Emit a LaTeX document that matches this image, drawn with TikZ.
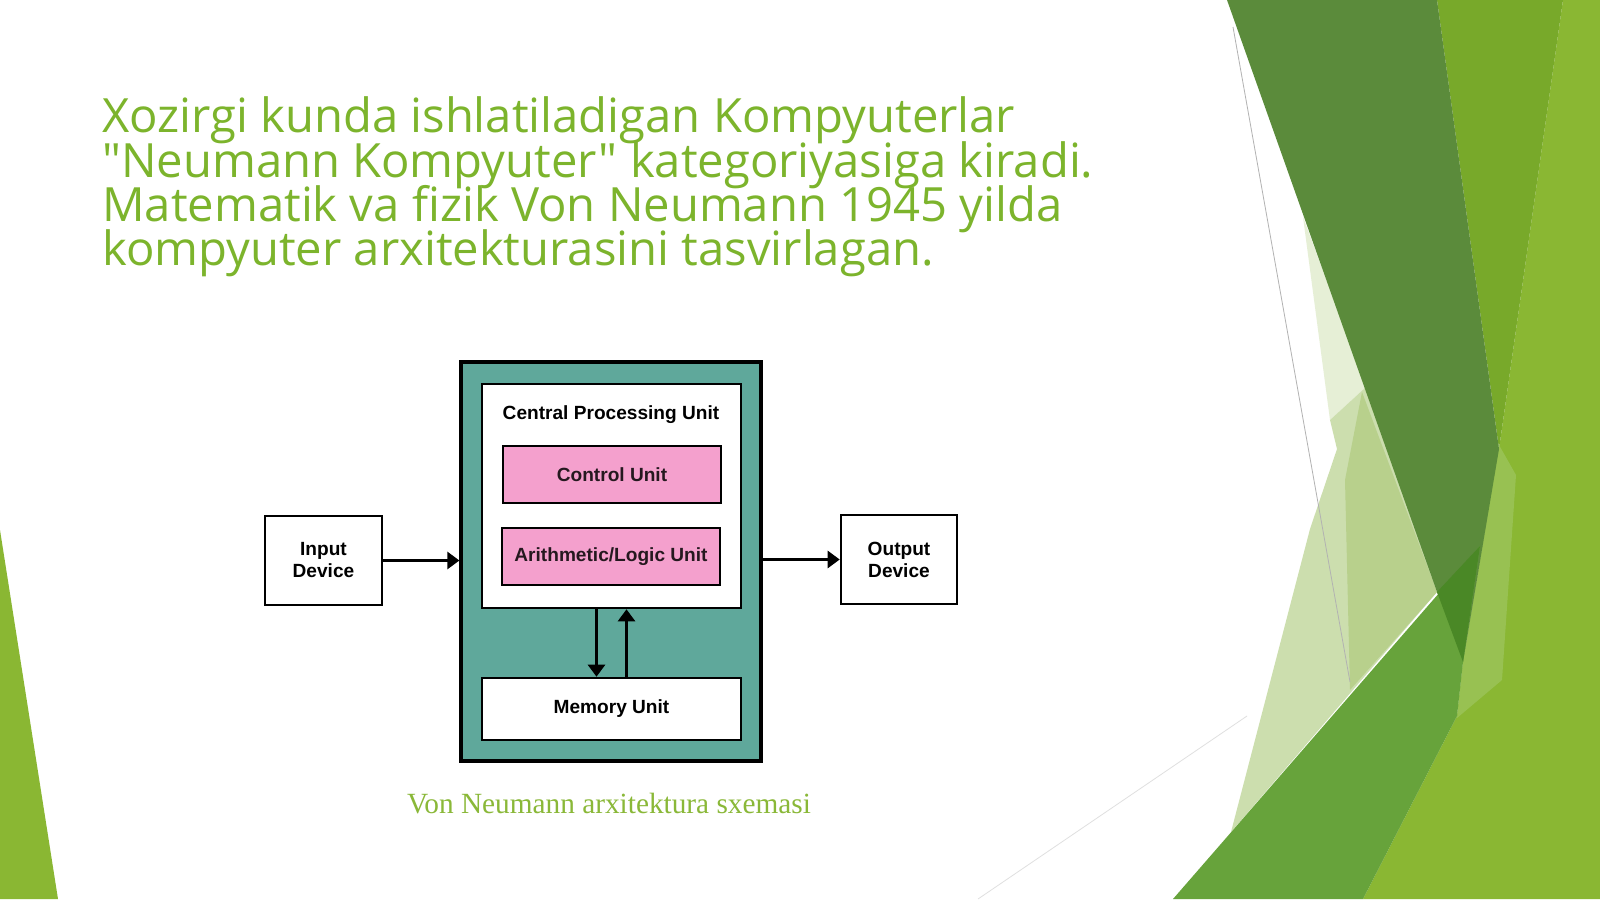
\documentclass[tikz,border=0pt]{standalone}
\usepackage{fontspec}
\setmainfont{Liberation Sans}
\newfontfamily\titlefont{Open Sans}
\newfontfamily\capfont{Liberation Serif}
\usetikzlibrary{arrows.meta, positioning, calc}

\definecolor{facetgreen}{HTML}{7CB42C}
\definecolor{capgreen}{HTML}{8AB838}
\definecolor{darkband}{HTML}{5B8B3B}
\definecolor{midgreen}{HTML}{78A92A}
\definecolor{brightgreen}{HTML}{8AB733}
\definecolor{lightstrip}{HTML}{98C152}
\definecolor{medband}{HTML}{67A33B}
\definecolor{overlap}{HTML}{4A8826}
\definecolor{palegreen}{HTML}{CCDEAE}
\definecolor{palegreenA}{HTML}{E6EFD6}
\definecolor{palegreenB}{HTML}{B8D08C}
\definecolor{cputeal}{HTML}{5FA89B}
\definecolor{unitpink}{HTML}{F4A0CD}

\begin{document}
\begin{tikzpicture}[x=1pt,y=-1pt,
    box/.style={draw=black, line width=2.6pt, fill=white, inner sep=0pt, align=center,
                font=\bfseries\fontsize{19.1}{22}\selectfont},
    unit/.style={box, fill=unitpink, text=black!85!unitpink},
    arr/.style={line width=2.6pt, -{Triangle[length=12pt,width=17pt]}},
    title/.style={text=facetgreen, inner sep=0pt, anchor=base west,
                  font=\titlefont\fontsize{47.2}{44.4}\selectfont}]

    % Nen va chegaralar
    \fill[white] (0,0) rectangle (1600,899);
    \useasboundingbox (0,0) rectangle (1600,899);

    % Chap pastdagi uchburchak
    \fill[brightgreen] (0,530) -- (58,899) -- (0,899) -- cycle;

    % O'ng tomondagi yashil shakllar
    \fill[palegreenA] (1303,217) -- (1366,387) -- (1330,420) -- cycle;
    \fill[palegreen] (1330,420) -- (1366,387) -- (1437,592) -- (1231,832) -- (1310,529) -- (1337,449) -- cycle;
    \fill[palegreenB] (1362,392) -- (1437,592) -- (1350,690) -- (1345,480) -- cycle;
    \fill[brightgreen] (1563,0) -- (1600,0) -- (1600,899) -- (1363,899) -- (1457,716) -- (1463,662) -- (1499,449) -- cycle;
    \fill[midgreen] (1437,0) -- (1563,0) -- (1499,449) -- cycle;
    \fill[lightstrip] (1499,445) -- (1516,475) -- (1502,680) -- (1457,718) -- (1463,662) -- cycle;
    \fill[darkband] (1227,0) -- (1437,0) -- (1499,449) -- (1463,662) -- (1437,592) -- cycle;
    \fill[medband] (1173,899) -- (1480,546) -- (1463,662) -- (1457,716) -- (1363,899) -- cycle;
    \fill[overlap] (1437,592) -- (1480,546) -- (1463,662) -- cycle;
    \draw[black!30, line width=0.8pt] (1233,27) -- (1350,682); % ingichka chiziq
    \draw[black!12, line width=0.8pt] (978,899) -- (1247,716);

    % Sarlavha
    \foreach \txt [count=\i] in {Xozirgi kunda ishlatiladigan Kompyuterlar,
        "Neumann Kompyuter" kategoriyasiga kiradi.,
        Matematik va fizik Von Neumann 1945 yilda,
        kompyuter arxitekturasini tasvirlagan.}
        \node[title] (t\i) at (102,{88.3+44.4*\i}) {\txt};

    % Sxema
    \node[box, fill=cputeal, line width=3.2pt, minimum width=300pt, minimum height=399pt] (teal) at (611,561.5) {};
    \node[box, minimum width=259pt, minimum height=224pt] (cpu) at (611.5,496) {};
    \node[font=\bfseries\fontsize{19.1}{22}\selectfont, inner sep=0pt] (cpulabel) at (611,415) {Central Processing Unit};
    \node[unit, minimum width=218pt, minimum height=57pt] (ctrl) at (612,474.5) {Control Unit};
    \node[unit, minimum width=218pt, minimum height=57pt] (alu) at (611,556.5) {Arithmetic/Logic Unit};
    \node[box, minimum width=259pt, minimum height=62pt] (mem) at (611.5,709) {Memory Unit};
    \node[box, minimum width=117pt, minimum height=89pt] (input) at (323.5,560.5) {Input\\Device};
    \node[box, minimum width=116pt, minimum height=89pt] (output) at (899,559.5) {Output\\Device};

    % Strelkalar
    \draw[arr] (input.east) -- (input.east -| teal.west);
    \draw[arr] (teal.east |- output.west) -- (output.west);
    \draw[arr] ([xshift=-15pt]cpu.south) -- ([xshift=-15pt]mem.north);
    \draw[arr] ([xshift=15pt]mem.north) -- ([xshift=15pt]cpu.south);

    % Izoh
    \node[text=capgreen, inner sep=0pt, anchor=base, font=\capfont\fontsize{29.3}{34}\selectfont] (caption) at (609,813) {Von Neumann arxitektura sxemasi};

\end{tikzpicture}
\end{document}
